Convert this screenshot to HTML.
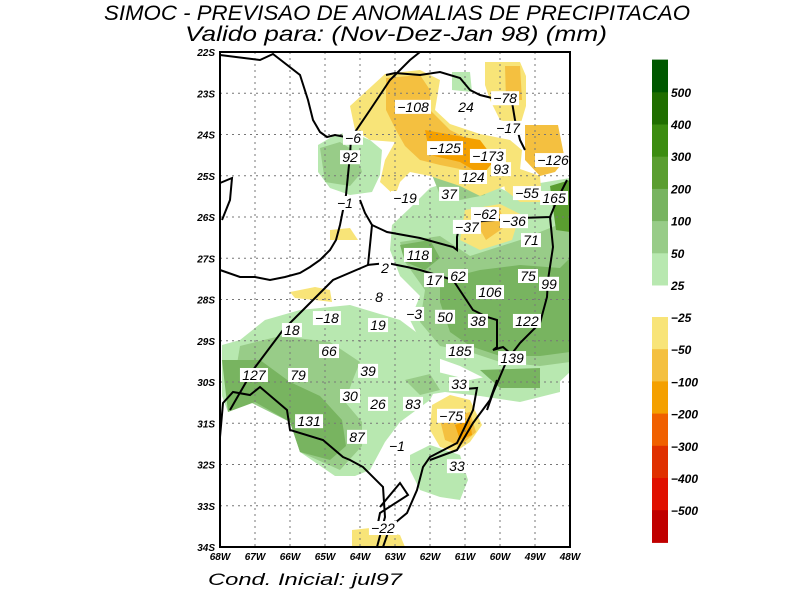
<!DOCTYPE html>
<html><head><meta charset="utf-8"><style>
body{margin:0;background:#fff;}
svg{display:block;font-family:"Liberation Serif",serif;}
</style></head><body>
<svg id="chart" width="792" height="602" viewBox="0 0 792 602" xmlns="http://www.w3.org/2000/svg">
<text x="104" y="20" textLength="586" lengthAdjust="spacingAndGlyphs" font-size="21" font-style="italic" fill="#000" font-family="Liberation Sans, sans-serif">SIMOC - PREVISAO DE ANOMALIAS DE PRECIPITACAO</text>
<text x="185" y="41" textLength="422" lengthAdjust="spacingAndGlyphs" font-size="21" font-style="italic" fill="#000" font-family="Liberation Sans, sans-serif">Valido para: (Nov-Dez-Jan 98) (mm)</text>
<g id="shade"></g>
<g id="grid"></g>
<g id="borders"></g>
<g id="labels"></g>
<rect x="220" y="52" width="350" height="495" fill="none" stroke="#000" stroke-width="2"/>
<g id="axes"></g>
<g id="cbar"></g>
<text x="208" y="585" textLength="194" lengthAdjust="spacingAndGlyphs" font-size="17" font-style="italic" fill="#000" font-family="Liberation Sans, sans-serif">Cond. Inicial: jul97</text>
</svg>
<script>
// ---- data ----
const latTicks=["22S","23S","24S","25S","26S","27S","28S","29S","30S","31S","32S","33S","34S"];
const lonTicks=["68W","67W","66W","65W","64W","63W","62W","61W","60W","49W","48W"];
const posLevels=["25","50","100","200","300","400","500"];
const negLevels=["-25","-50","-100","-200","-300","-400","-500"];
const labelValues=[-108,24,-78,-17,-6,92,-125,-173,93,124,-126,-55,165,37,-19,-1,-62,-36,-37,71,118,2,17,62,75,99,8,106,-18,19,-3,50,38,122,18,66,185,139,127,79,39,33,30,26,83,-75,131,87,-1,33,-22];
const labelLon=[-56.97,-53.94,-51.71,-51.54,-60.4,-60.57,-55.14,-52.69,-51.94,-53.54,-48.97,-50.46,-48.91,-54.91,-57.43,-60.86,-52.86,-51.2,-53.89,-50.23,-56.69,-58.57,-55.77,-54.4,-50.4,-49.2,-58.91,-52.57,-61.89,-58.97,-56.91,-55.14,-53.26,-50.46,-63.89,-61.77,-54.29,-51.31,-66.06,-63.54,-59.54,-54.34,-60.57,-58.97,-56.97,-54.8,-62.91,-60.17,-57.89,-54.46,-58.69];
const labelLat=[-23.33,-23.33,-23.12,-23.84,-24.08,-24.55,-24.33,-24.52,-24.84,-25.03,-24.62,-25.42,-25.54,-25.44,-25.54,-25.66,-25.93,-26.1,-26.24,-26.56,-26.92,-27.24,-27.53,-27.43,-27.43,-27.62,-27.94,-27.82,-28.45,-28.62,-28.35,-28.42,-28.52,-28.52,-28.74,-29.25,-29.25,-29.42,-29.83,-29.83,-29.73,-30.05,-30.34,-30.53,-30.53,-30.82,-30.95,-31.33,-31.55,-32.04,-33.54];
// ---- scales ----
const X0=220,X1=570,Y0=52,Y1=547;
const xOf=lon=>X0+(lon+68)*(X1-X0)/20;
const yOf=lat=>Y0+(-22-lat)*(Y1-Y0)/12;
const NS="http://www.w3.org/2000/svg";
function mk(tag,attrs,parent){const e=document.createElementNS(NS,tag);for(const k in attrs)e.setAttribute(k,attrs[k]);parent.appendChild(e);return e;}
const posCol=["#b8e8b0","#98cc88","#78b460","#5a9e30","#3c8c10","#206e00","#005800"];
const negCol=["#f8e478","#f4c040","#f4a000","#f06000","#e03000","#e01000","#c00000"];
const shapes=[
 [0,"318,145 335,135 350,132 370,140 382,150 380,175 372,192 350,195 330,188 318,172"],
 [1,"320,148 340,142 356,152 362,172 350,186 325,182"],
 [0,"392,225 410,208 430,188 460,178 500,188 520,198 540,183 570,178 570,372 555,386 500,386 460,366 432,356 420,340 410,320 420,296 400,276 390,250"],
 [1,"400,242 440,236 470,256 520,240 570,220 570,362 540,366 500,362 470,352 440,346 420,322 425,290 405,262"],
 [1,"430,170 470,165 490,175 485,195 460,200 440,195"],
 [2,"440,280 480,270 520,265 560,268 570,258 570,352 540,356 500,356 470,346 450,332 440,302"],
 [2,"400,245 430,240 440,258 425,270 405,262"],
 [3,"550,186 570,180 570,232 556,230"],
 [0,"265,320 300,310 350,305 400,320 420,335 440,346 440,380 430,400 400,422 385,442 370,470 355,476 335,476 300,452 290,422 250,402 228,412 222,396 222,345 240,340"],
 [1,"240,346 280,336 330,342 360,362 352,382 345,402 362,422 362,446 340,470 300,452 290,422 250,402 230,406"],
 [2,"222,360 260,360 290,382 320,396 342,420 346,446 330,460 300,452 290,422 255,402 228,412"],
 [0,"395,375 430,370 470,380 500,374 560,378 560,392 520,402 480,396 445,392 420,396 400,392"],
 [1,"405,380 430,374 440,390 420,395"],
 [2,"480,370 540,368 540,388 500,388"],
 [0,"410,455 430,445 460,455 468,480 460,500 440,497 420,490 410,470"],
 [-1,"432,405 450,395 470,400 482,425 470,442 455,452 440,447 430,430"],
 [-2,"440,420 470,412 476,432 460,446 445,440"],
 [-3,"455,425 470,420 472,435 460,440"],
 [-1,"352,530 370,528 400,535 405,547 352,547"],
 [-1,"290,292 315,287 330,290 332,302 315,300 295,298"],
 [-1,"330,230 350,228 358,240 330,240"],
 [-1,"350,106 385,74 420,70 440,80 435,110 450,124 480,134 510,140 522,150 520,170 505,186 480,196 460,186 430,176 410,172 400,182 395,196 380,182 385,160 395,142 370,140 355,130"],
 [-2,"386,78 420,75 430,90 430,110 450,130 470,140 482,150 490,165 480,180 465,170 440,165 420,160 405,146 396,130 386,110"],
 [-3,"425,130 480,140 495,160 482,175 460,162 430,155"],
 [-4,"495,158 503,156 505,162 497,164"],
 [-1,"485,62 520,62 526,76 526,106 520,126 500,120 490,100 485,85"],
 [-2,"505,66 520,66 522,100 506,100"],
 [-2,"525,125 558,125 565,160 555,172 540,176 525,160"],
 [-1,"500,162 540,176 542,202 520,202 505,190"],
 [-1,"465,210 500,204 520,214 512,240 480,250 460,240"],
 [-2,"472,215 500,210 506,226 486,240"],
 [0,"452,72 470,72 472,92 452,90"]
];
const shade=document.getElementById('shade');
shapes.forEach(s=>{
 const p=mk('polygon',{points:s[1],fill:s[0]>=0?posCol[s[0]]:negCol[-s[0]-1]},shade);
 
 
});
const grid=document.getElementById('grid');
for(let i=1;i<lonTicks.length-1;i++){const x=xOf(-68+i*2);const l=mk('line',{x1:x,x2:x,y1:Y0,y2:Y1,stroke:'#777','stroke-dasharray':'2,4','stroke-width':1},grid);}
for(let i=1;i<latTicks.length-1;i++){const y=yOf(-22-i);const l=mk('line',{x1:X0,x2:X1,y1:y,y2:y,stroke:'#777','stroke-dasharray':'2,4','stroke-width':1},grid);}
const lines=[
 "220,55 260,60 273,54 300,75 308,100 313,120 320,132 327,137 335,135 351,138",
 "351,138 370,110 390,80 410,60 420,52",
 "386,75 395,73 420,75 440,72 460,78 470,90 480,95 500,100 512,102 515,120 520,140 525,150",
 "351,138 350,155 348,175 346,195 343,210 340,225 336,240 330,250 320,260 310,267 300,273 285,277 270,280 255,277 240,277 220,270",
 "220,183 232,178 230,200 222,220",
 "360,200 365,213 372,225 368,265 333,280 310,303 283,330 253,370 230,410",
 "372,225 387,232 420,238 453,247 457,250 457,237 460,223 520,218 550,217 557,200 567,180",
 "550,217 553,247 548,280 547,297 540,323 520,343 507,360 493,393 487,410",
 "367,265 387,263 407,267 420,270 430,273 453,280 473,310 487,317 497,320 497,347 493,350 503,347 510,353",
 "497,380 490,400 473,423 457,450 430,460",
 "453,390 477,388 473,410 457,443 430,457 423,467 417,490 407,513 390,527 383,547",
 "377,547 385,517 383,487 363,467 350,460 343,457 323,440 290,430 287,410 260,387 250,395 233,392 223,403 220,437",
 "380,507 400,483 408,495 380,513 378,523"
];
const borders=document.getElementById('borders');
lines.forEach(s=>{const p=mk('polyline',{points:s,fill:'none',stroke:'#000','stroke-width':2},borders);});
const lab=document.getElementById('labels');
labelValues.forEach((v,i)=>{
 const x=xOf(labelLon[i]),y=yOf(labelLat[i]);
 const t=String(v).replace('-','\u2212');
 const w=t.length*8+4;
 const r=mk('rect',{x:x-w/2,y:y-7,width:w,height:14,fill:'#fff'},lab);
 
 
 const tx=mk('text',{x:x,y:y+5,'text-anchor':'middle','font-size':14,'font-style':'italic',fill:'#000','font-family':'Liberation Sans, sans-serif'},lab);
 
 
 tx.textContent=t;
});
const ax=document.getElementById('axes');
latTicks.forEach((t,i)=>{const e=mk('text',{x:215,y:yOf(-22-i)+4,'text-anchor':'end','font-size':10,'font-weight':'bold','font-style':'italic',fill:'#000','font-family':'Liberation Sans, sans-serif'},ax);e.textContent=t;});
lonTicks.forEach((t,i)=>{const e=mk('text',{x:xOf(-68+i*2),y:560,'text-anchor':'middle','font-size':10,'font-weight':'bold','font-style':'italic',fill:'#000','font-family':'Liberation Sans, sans-serif'},ax);e.textContent=t;});
const cb=document.getElementById('cbar');
const segH=32.2;
posLevels.forEach((t,i)=>{
 const y=285-(i+1)*segH;
 const r=mk('rect',{x:652,y:y,width:16,height:segH+0.5,fill:posCol[i]},cb);
 
 
 const e=mk('text',{x:671,y:285-i*segH+5,'font-size':12,'font-weight':'bold','font-style':'italic',fill:'#000','font-family':'Liberation Sans, sans-serif'},cb);
 
 
 e.textContent=t;
});
negLevels.forEach((t,i)=>{
 const y=317+i*segH;
 const r=mk('rect',{x:652,y:y,width:16,height:segH+0.5,fill:negCol[i]},cb);
 
 
 const e=mk('text',{x:671,y:y+5,'font-size':12,'font-weight':'bold','font-style':'italic',fill:'#000','font-family':'Liberation Sans, sans-serif'},cb);
 
 
 e.textContent=t.replace('-','\u2212');
});
</script>
</body></html>
